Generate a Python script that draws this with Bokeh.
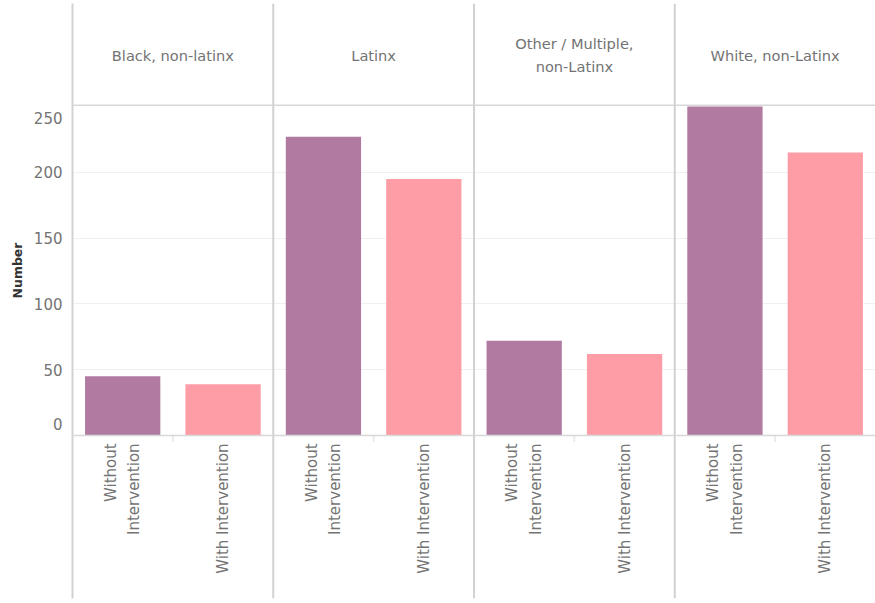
import math
from bokeh.plotting import figure
from bokeh.models import FactorRange, Range1d, Span, FixedTicker, Title, ColumnDataSource
from bokeh.core.properties import value
from bokeh.embed import file_html
from bokeh.resources import INLINE

# ---- data ----
groups = ["Black, non-latinx", "Latinx", "Other / Multiple, non-Latinx", "White, non-Latinx"]
group_labels = ["Black, non-latinx", "Latinx", "Other / Multiple,\nnon-Latinx", "White, non-Latinx"]
conditions = ["Without Intervention", "With Intervention"]
condition_labels = ["Without\nIntervention", "With Intervention"]
without_values = [45, 227, 72, 250]
with_values = [39, 195, 62, 215]
y_ticks = [0, 50, 100, 150, 200, 250]
bar_colors = ["#b07aa1", "#ff9da7"]

FONT = "DejaVu Sans"
TEXT = "#737373"
SEP = "#d2d2d2"

W, H = 875, 603
TOP_PAD, BOTTOM_PAD, LEFT = 3, 5, 72
PX_PER_UNIT = 1.316
ZERO_Y = 435  # pixel row of the zero line

factors = [(g, c) for g in groups for c in conditions]
tops, cols, labels = [], [], []
for i, g in enumerate(groups):
    tops += [without_values[i], with_values[i]]
    cols += bar_colors
    labels += condition_labels

src = ColumnDataSource(dict(x=factors, top=tops, color=cols, label=labels))

x_range = FactorRange(*factors, range_padding=0, group_padding=0,
                      subgroup_padding=0, factor_padding=0)
y_end = (ZERO_Y - TOP_PAD) / PX_PER_UNIT
y_start = -(H - BOTTOM_PAD - ZERO_Y) / PX_PER_UNIT

p = figure(width=W, height=H, x_range=x_range, y_range=Range1d(y_start, y_end),
           output_backend="svg", toolbar_location=None, x_axis_location=None,
           min_border_left=LEFT, min_border_right=0, min_border_top=TOP_PAD,
           min_border_bottom=BOTTOM_PAD)
p.outline_line_color = None
p.background_fill_color = "white"
p.border_fill_color = "white"
p.xgrid.visible = False
p.ygrid.ticker = FixedTicker(ticks=y_ticks[1:-1])
p.ygrid.grid_line_color = "#f0f0f0"
p.ygrid.grid_line_width = 1

# Tableau nudges the first/last tick label inward so it stays inside the pane
edge_shift = 8.5
label_pos = [t for t in y_ticks]
label_pos[0] = y_ticks[0] + edge_shift
label_pos[-1] = y_ticks[-1] - edge_shift
ax = p.yaxis[0]
ax.ticker = FixedTicker(ticks=label_pos)
ax.major_label_overrides = {pos: str(t) for pos, t in zip(label_pos, y_ticks)}
ax.axis_line_color = SEP
ax.axis_line_width = 2
ax.major_tick_line_color = None
ax.minor_tick_line_color = None
ax.major_label_text_font = FONT
ax.major_label_text_font_size = "15px"
ax.major_label_text_color = TEXT
ax.major_label_standoff = 4

p.add_layout(Title(text="Number", align="right", offset=239, standoff=12,
                   text_font=FONT, text_font_size="12.5px", text_font_style="bold",
                   text_color="#333333"), "left")

# bars
p.vbar(x="x", top="top", width=0.75, fill_color="color", line_color=None, source=src)

# baseline & header border
p.add_layout(Span(location=0, dimension="width", line_color="#d8d8d8", line_width=1.5))
p.add_layout(Span(location=251, dimension="width", line_color="#d8d8d8", line_width=1.5))

# small ticks between the two bars of each pane
mid_x = [2 * k + 1 for k in range(len(groups))]
p.segment(x0=mid_x, x1=mid_x, y0=[0] * len(mid_x), y1=[-5] * len(mid_x),
          line_color="#ebebeb", line_width=2)

# pane separators
for k in range(1, len(groups)):
    p.add_layout(Span(location=2 * k, dimension="height", line_color=SEP, line_width=2))

# pane headers
p.text(x=groups, y=[289] * len(groups), text=group_labels, text_font=value(FONT),
       text_font_size="14.6px", text_color=TEXT, text_align="center",
       text_baseline="middle", text_line_height=1.35)

# category labels (rotated)
p.text(x="x", y=-6, text="label", source=src, angle=math.pi / 2,
       text_font=value(FONT), text_font_size="15px", text_color=TEXT,
       text_align="right", text_baseline="middle", text_line_height=1.3)

open("out.html", "w").write(file_html(p, INLINE))
